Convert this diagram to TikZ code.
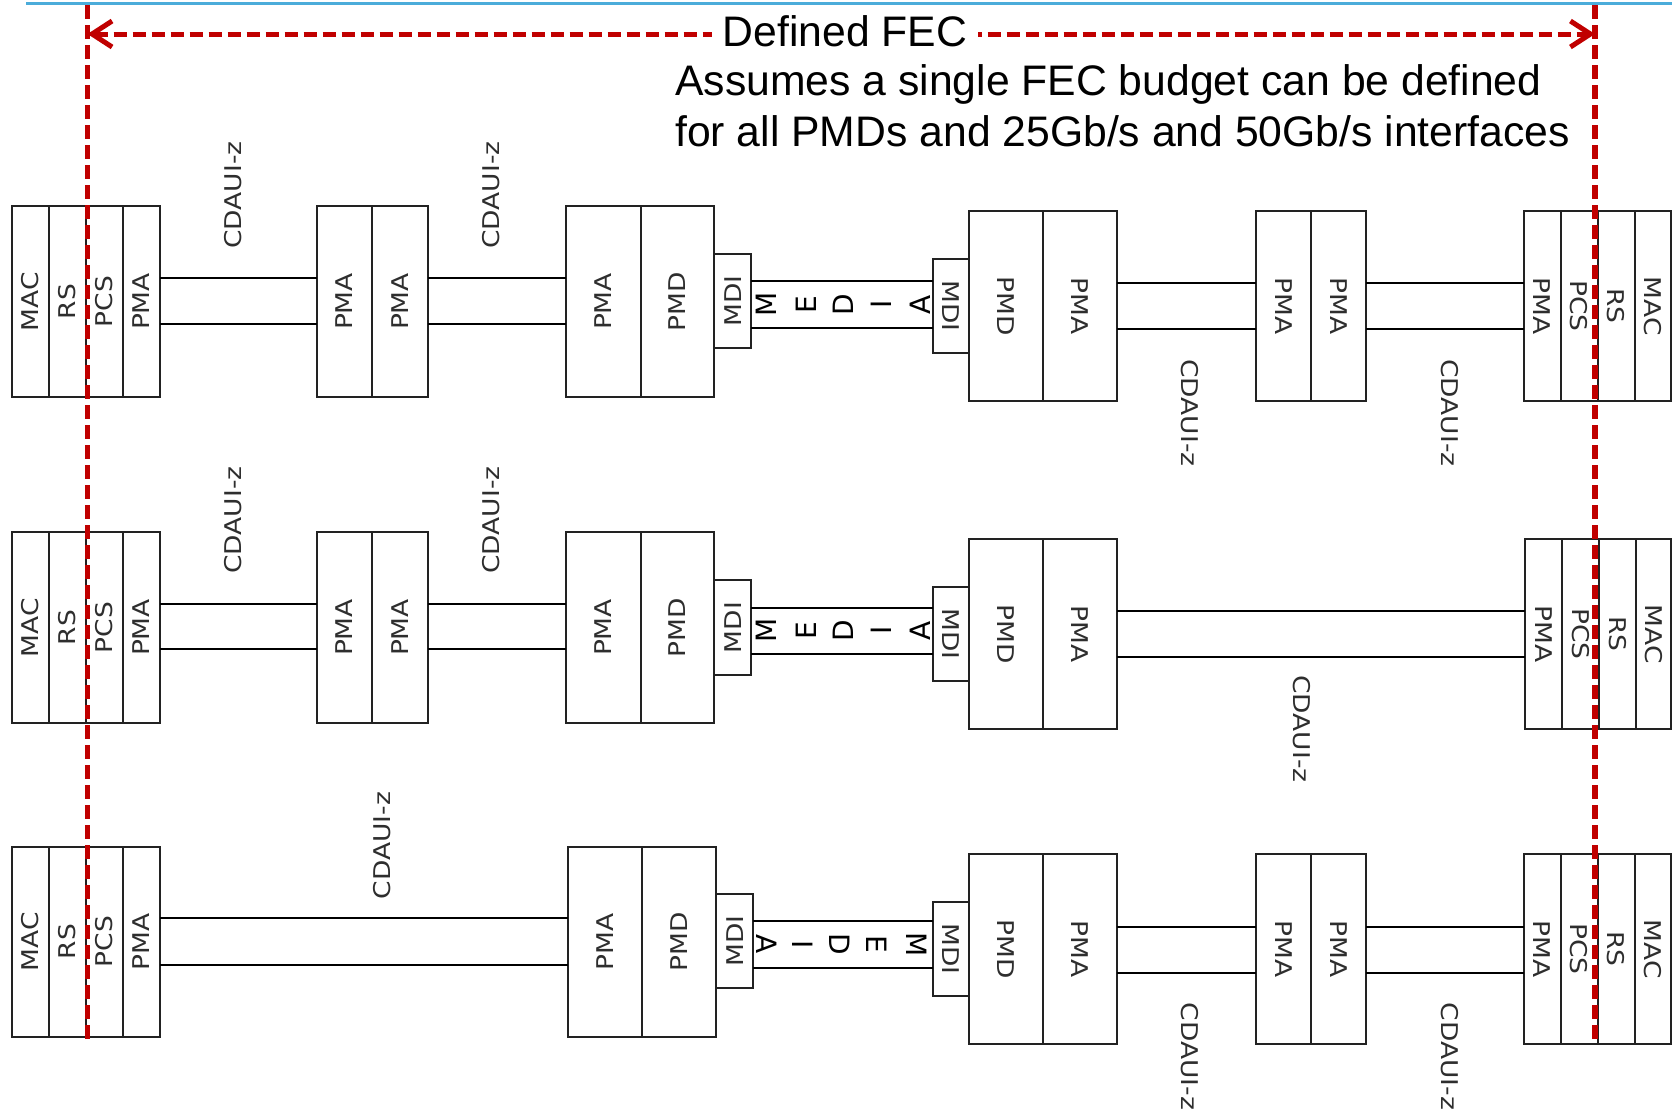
\documentclass[tikz,border=0pt]{standalone}
\usepackage{graphicx}
\usepackage{fontspec}
\setmainfont{Liberation Sans}
\newfontfamily\labfont{DejaVu Sans}
\usetikzlibrary{arrows.meta,calc}
\definecolor{fecred}{HTML}{C00000}
\definecolor{topblue}{HTML}{4BACDA}
\definecolor{boxc}{HTML}{222222}
\definecolor{labc}{HTML}{2E2E2E}
\newcommand\lup[1]{\rotatebox{90}{\scalebox{1}[0.87]{#1}}}
\newcommand\ldn[1]{\rotatebox{-90}{\scalebox{1}[0.87]{#1}}}
\newcommand\mkbox[6]{%
  \pgfmathsetmacro\mkw{#4-#2}%
  \pgfmathsetmacro\mkh{#5-#3}%
  \pgfmathsetmacro\mkx{(#2+#4)/2}%
  \pgfmathsetmacro\mky{(#3+#5)/2}%
  \node[box, minimum width=\mkw pt, minimum height=\mkh pt] (#1) at (\mkx,\mky) {#6};%
}
\begin{document}
\begin{tikzpicture}[x=1pt,y=-1pt,
  box/.style={draw=boxc, line width=2pt, inner sep=0pt, outer sep=0pt,
    font=\labfont\fontsize{26.5}{30}\selectfont, text=labc},
  wire/.style={draw=black, line width=2pt},
  fecline/.style={draw=fecred, line width=5.5pt, dash pattern=on 14pt off 6pt},
  medialetter/.style={font=\labfont\fontsize{28}{30}\selectfont, inner sep=0pt, text=black},
  cdaui/.style={font=\labfont\fontsize{26.5}{30}\selectfont, text=labc, inner sep=0pt},
  hdr/.style={font=\fontsize{42.7}{50}\selectfont, text=black}]
\useasboundingbox (0,0) rectangle (1672,1109);

% top blue rule
\coordinate (tb0) at (26,3.3);
\coordinate (tb1) at (1672,3.3);
\draw[topblue, line width=2.5pt] (tb0) -- (tb1);

% ================= Row 1 =================
\mkbox{aMAC}{11.7}{206}{48.8}{397}{\lup{MAC}}
\mkbox{aRS}{48.8}{206}{85.9}{397}{\lup{RS}}
\mkbox{aPCS}{85.9}{206}{123}{397}{\lup{PCS}}
\mkbox{aPMA}{123}{206}{160}{397}{\lup{PMA}}
\mkbox{aX1}{316.8}{206}{372.1}{397}{\lup{PMA}}
\mkbox{aX2}{372.1}{206}{427.5}{397}{\lup{PMA}}
\mkbox{aY1}{566}{206}{640.5}{397}{\lup{PMA}}
\mkbox{aY2}{640.5}{206}{714.3}{397}{\lup{PMD}}
\mkbox{aMDIl}{714.3}{254}{751}{348}{\lup{MDI}}
\mkbox{aMDIr}{932.5}{259.3}{969.3}{353}{\ldn{MDI}}
\mkbox{aZ1}{969.3}{211}{1042.8}{401}{\ldn{PMD}}
\mkbox{aZ2}{1042.8}{211}{1116.5}{401}{\ldn{PMA}}
\mkbox{aW1}{1255.8}{211}{1311.2}{401}{\ldn{PMA}}
\mkbox{aW2}{1311.2}{211}{1366.3}{401}{\ldn{PMA}}
\mkbox{aRPMA}{1523.5}{211}{1560.5}{401}{\ldn{PMA}}
\mkbox{aRPCS}{1560.5}{211}{1597.5}{401}{\ldn{PCS}}
\mkbox{aRRS}{1597.5}{211}{1634.5}{401}{\ldn{RS}}
\mkbox{aRMAC}{1634.5}{211}{1671}{401}{\ldn{MAC}}
\coordinate (a1) at (0,278);   \coordinate (a2) at (0,324);
\coordinate (am1) at (0,281.3); \coordinate (am2) at (0,327.7);
\coordinate (ar1) at (0,283.3); \coordinate (ar2) at (0,329.3);
\foreach \yy in {a1,a2}{
  \draw[wire] (aPMA.east |- \yy) -- (aX1.west |- \yy);
  \draw[wire] (aX2.east |- \yy) -- (aY1.west |- \yy);}
\foreach \yy in {am1,am2}{\draw[wire] (aMDIl.east |- \yy) -- (aMDIr.west |- \yy);}
\foreach \yy in {ar1,ar2}{
  \draw[wire] (aZ2.east |- \yy) -- (aW1.west |- \yy);
  \draw[wire] (aW2.east |- \yy) -- (aRPMA.west |- \yy);}
\node[medialetter, rotate=90] (aM) at (766.7,304.5) {M};
\node[medialetter, rotate=90] (aE) at (806.5,304.5) {E};
\node[medialetter, rotate=90] (aD) at (843,304.5) {D};
\node[medialetter, rotate=90] (aI) at (881,304.5) {I};
\node[medialetter, rotate=90] (aA) at (920,304.5) {A};
\node[cdaui] (aC1) at (233,195) {\lup{CDAUI-z}};
\node[cdaui] (aC2) at (491,195) {\lup{CDAUI-z}};
\node[cdaui] (aC3) at (1190,413) {\ldn{CDAUI-z}};
\node[cdaui] (aC4) at (1450,413) {\ldn{CDAUI-z}};

% ================= Row 2 =================
\mkbox{bMAC}{11.7}{532}{48.8}{723}{\lup{MAC}}
\mkbox{bRS}{48.8}{532}{85.9}{723}{\lup{RS}}
\mkbox{bPCS}{85.9}{532}{123}{723}{\lup{PCS}}
\mkbox{bPMA}{123}{532}{160}{723}{\lup{PMA}}
\mkbox{bX1}{316.8}{532}{372.1}{723}{\lup{PMA}}
\mkbox{bX2}{372.1}{532}{427.5}{723}{\lup{PMA}}
\mkbox{bY1}{566}{532}{640.5}{723}{\lup{PMA}}
\mkbox{bY2}{640.5}{532}{714.3}{723}{\lup{PMD}}
\mkbox{bMDIl}{714.3}{580}{751}{675}{\lup{MDI}}
\mkbox{bMDIr}{932.5}{586.5}{969.3}{681.4}{\ldn{MDI}}
\mkbox{bZ1}{969.3}{538.5}{1042.8}{729.3}{\ldn{PMD}}
\mkbox{bZ2}{1042.8}{538.5}{1116.5}{729.3}{\ldn{PMA}}
\mkbox{bRPMA}{1525}{539}{1562}{729.3}{\ldn{PMA}}
\mkbox{bRPCS}{1562}{539}{1599}{729.3}{\ldn{PCS}}
\mkbox{bRRS}{1599}{539}{1636}{729.3}{\ldn{RS}}
\mkbox{bRMAC}{1636}{539}{1671}{729.3}{\ldn{MAC}}
\coordinate (b1) at (0,603.5);  \coordinate (b2) at (0,649.4);
\coordinate (bm1) at (0,607.8); \coordinate (bm2) at (0,653.6);
\coordinate (br1) at (0,611);   \coordinate (br2) at (0,657);
\foreach \yy in {b1,b2}{
  \draw[wire] (bPMA.east |- \yy) -- (bX1.west |- \yy);
  \draw[wire] (bX2.east |- \yy) -- (bY1.west |- \yy);}
\foreach \yy in {bm1,bm2}{\draw[wire] (bMDIl.east |- \yy) -- (bMDIr.west |- \yy);}
\foreach \yy in {br1,br2}{\draw[wire] (bZ2.east |- \yy) -- (bRPMA.west |- \yy);}
\node[medialetter, rotate=90] (bM) at (766.7,630.7) {M};
\node[medialetter, rotate=90] (bE) at (806.5,630.7) {E};
\node[medialetter, rotate=90] (bD) at (843,630.7) {D};
\node[medialetter, rotate=90] (bI) at (881,630.7) {I};
\node[medialetter, rotate=90] (bA) at (920,630.7) {A};
\node[cdaui] (bC1) at (233,520) {\lup{CDAUI-z}};
\node[cdaui] (bC2) at (491,520) {\lup{CDAUI-z}};
\node[cdaui] (bC3) at (1302,729) {\ldn{CDAUI-z}};

% ================= Row 3 =================
\mkbox{cMAC}{11.7}{847}{48.8}{1036.5}{\lup{MAC}}
\mkbox{cRS}{48.8}{847}{85.9}{1036.5}{\lup{RS}}
\mkbox{cPCS}{85.9}{847}{123}{1036.5}{\lup{PCS}}
\mkbox{cPMA}{123}{847}{160}{1036.5}{\lup{PMA}}
\mkbox{cY1}{567.5}{847}{641.7}{1036.5}{\lup{PMA}}
\mkbox{cY2}{641.7}{847}{716}{1036.5}{\lup{PMD}}
\mkbox{cMDIl}{716}{894}{753.3}{988.3}{\lup{MDI}}
\mkbox{cMDIr}{932.7}{902.3}{968.7}{996}{\ldn{MDI}}
\mkbox{cZ1}{968.7}{854}{1042.8}{1044}{\ldn{PMD}}
\mkbox{cZ2}{1042.8}{854}{1116.5}{1044}{\ldn{PMA}}
\mkbox{cW1}{1255.8}{854}{1311.2}{1044}{\ldn{PMA}}
\mkbox{cW2}{1311.2}{854}{1366.3}{1044}{\ldn{PMA}}
\mkbox{cRPMA}{1523.5}{854}{1560.5}{1044}{\ldn{PMA}}
\mkbox{cRPCS}{1560.5}{854}{1597.5}{1044}{\ldn{PCS}}
\mkbox{cRRS}{1597.5}{854}{1634.5}{1044}{\ldn{RS}}
\mkbox{cRMAC}{1634.5}{854}{1671}{1044}{\ldn{MAC}}
\coordinate (c1) at (0,918);    \coordinate (c2) at (0,964.5);
\coordinate (cm1) at (0,921);   \coordinate (cm2) at (0,967.7);
\coordinate (cr1) at (0,926.7); \coordinate (cr2) at (0,972.7);
\foreach \yy in {c1,c2}{\draw[wire] (cPMA.east |- \yy) -- (cY1.west |- \yy);}
\foreach \yy in {cm1,cm2}{\draw[wire] (cMDIl.east |- \yy) -- (cMDIr.west |- \yy);}
\foreach \yy in {cr1,cr2}{
  \draw[wire] (cZ2.east |- \yy) -- (cW1.west |- \yy);
  \draw[wire] (cW2.east |- \yy) -- (cRPMA.west |- \yy);}
\node[medialetter, rotate=-90] (cA) at (766.7,944.3) {A};
\node[medialetter, rotate=-90] (cI) at (803,944.3) {I};
\node[medialetter, rotate=-90] (cD) at (840,944.3) {D};
\node[medialetter, rotate=-90] (cE) at (876.7,944.3) {E};
\node[medialetter, rotate=-90] (cM) at (916.7,944.3) {M};
\node[cdaui] (cC1) at (382,845.5) {\lup{CDAUI-z}};
\node[cdaui] (cC2) at (1190,1056.5) {\ldn{CDAUI-z}};
\node[cdaui] (cC3) at (1450,1056.5) {\ldn{CDAUI-z}};

% ================= FEC boundary =================
\coordinate (fl0) at (87.5,5);  \coordinate (fl1) at (87.5,1042);
\coordinate (fr0) at (1595,5);  \coordinate (fr1) at (1595,1042);
\draw[fecline] (fl0) -- (fl1);
\draw[fecline] (fr0) -- (fr1);
\coordinate (al) at (87.5,34);
\coordinate (ar) at (1595,34);
\draw[draw=fecred, line width=5pt, dash pattern=on 13pt off 6pt,
  {Straight Barb[length=20pt,width=26pt]}-{Straight Barb[length=20pt,width=26pt]}] (al) -- (ar);
\node[hdr, fill=white, inner xsep=11pt, inner ysep=2pt, anchor=base] (fec) at (845,46.7) {Defined FEC};
\node[hdr, inner sep=0pt, anchor=base west] (as1) at (675,95) {Assumes a single FEC budget can be defined};
\node[hdr, inner sep=0pt, anchor=base west] (as2) at (675,146) {for all PMDs and 25Gb/s and 50Gb/s interfaces};
\end{tikzpicture}
\end{document}
